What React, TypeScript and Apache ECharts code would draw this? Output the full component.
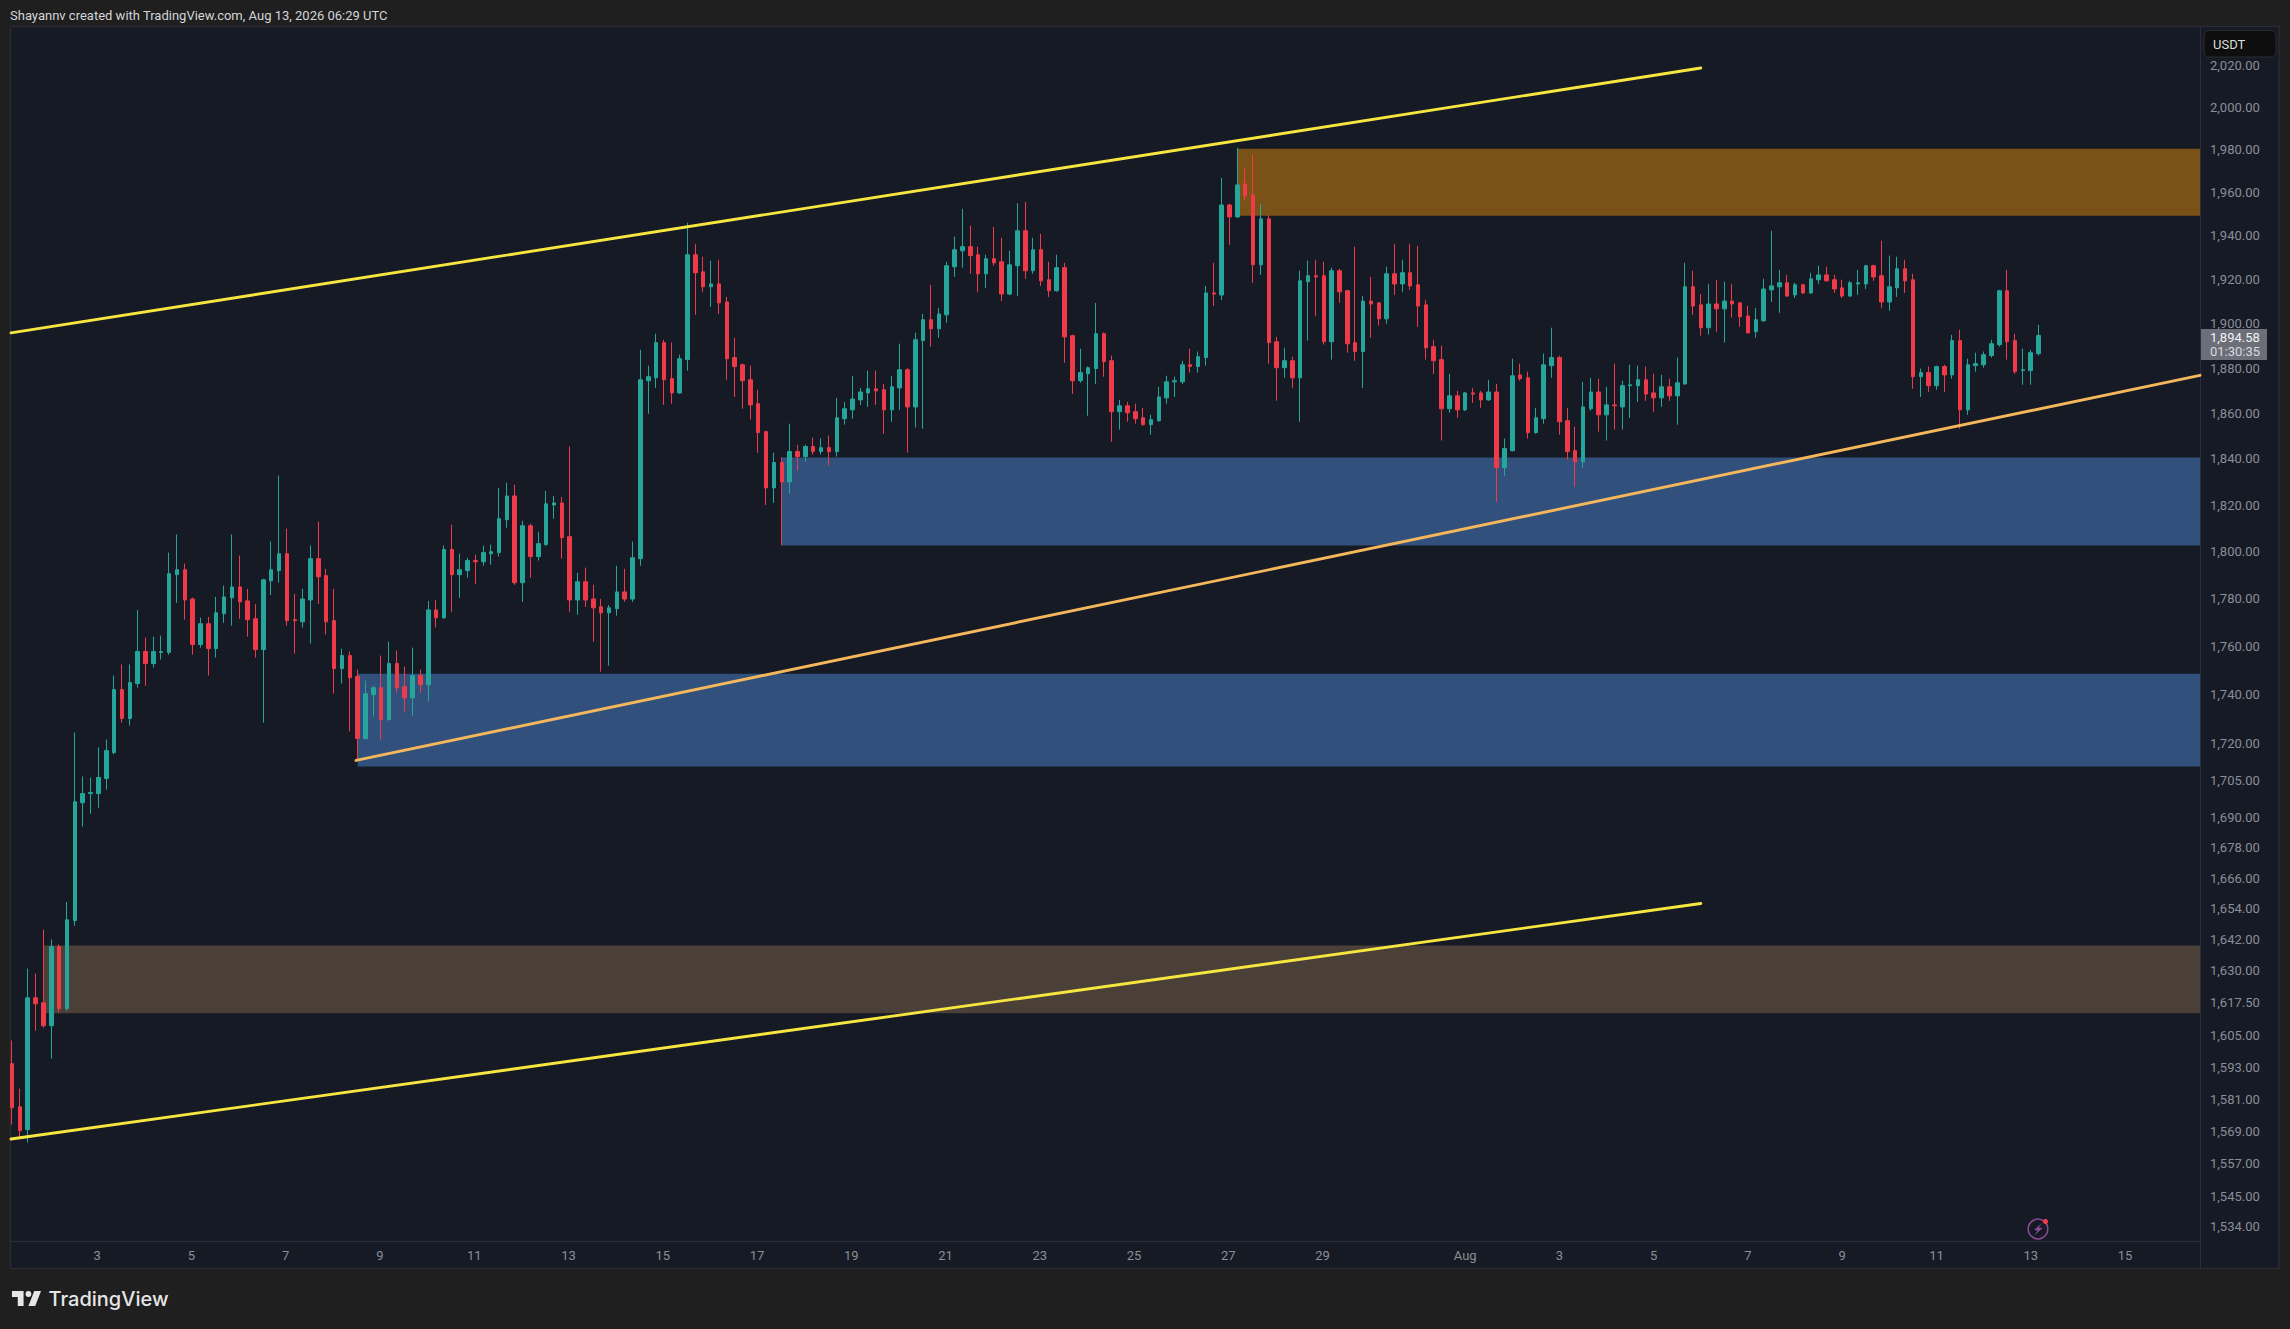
import React, { useEffect, useRef } from "react";
import * as echarts from "echarts";

const opens = [
1594.3,1578.1,1569.6,1619.4,1617.5,1608.7,1639.2,1615.2,1649.3,1696,
1699.7,1699.7,1705.8,1716.3,1742.1,1730.2,1744.6,1757.9,1752.9,1757.5,
1757.5,1790.2,1792.3,1779.9,1760.8,1769.5,1759.1,1773.7,1780.4,1785,
1779.1,1771.6,1758.7,1787.6,1791.9,1799.1,1771.2,1770.3,1779.5,1797,
1789.8,1770.8,1750.8,1756.2,1747.5,1722,1740,1742.9,1729.8,1752.9,
1743.3,1738.7,1747.9,1744.1,1775.3,1772,1800.9,1790.2,1791.9,1796.2,
1795.7,1799.1,1799.6,1813.7,1823.9,1786.8,1811.1,1797.9,1803,1820,
1820.9,1806.4,1779.5,1787.2,1779.9,1776.6,1774.1,1775.8,1782.9,1779.9,
1797,1874.4,1875.7,1891.4,1875.3,1869,1883.8,1931.2,1923.4,1916.6,
1917.9,1909.7,1884.7,1881.5,1874.8,1864.2,1851.9,1827.4,1838.4,1830,
1843.2,1841,1845.4,1843.2,1844.9,1843.2,1857.6,1861.5,1865.9,1869,
1870.8,1870.4,1861.5,1871.2,1879.3,1862.8,1892.3,1901.7,1897.6,1903.9,
1925.7,1933,1934.9,1931.2,1922.5,1929.4,1928,1913.3,1926.2,1942.2,
1923.9,1933.5,1919.8,1914.8,1925.3,1894.5,1874.4,1877.5,1879.8,1895.4,
1883.3,1860.7,1863.3,1860.7,1858,1855,1856.7,1866.8,1873.9,1873.9,
1881.5,1880.7,1884.7,1913.8,1912.9,1954.1,1948.6,1963.9,1958.8,1926.6,
1947.7,1891.8,1880.2,1883.3,1875.7,1918.9,1921.6,1921.6,1891.8,1923.9,
1914.8,1891.4,1887.4,1910.1,1909.3,1902.1,1922.5,1917.9,1923,1917.5,
1908.4,1889.6,1883.8,1862,1867.7,1861.5,1869,1869,1865.9,1869.4,
1836.2,1843.6,1877,1875.7,1851.5,1857.6,1881.1,1884.7,1856.7,1843.6,
1838.8,1862,1869.4,1859.3,1863.7,1862.8,1872.2,1872.2,1874.8,1869,
1866.8,1871.7,1867.7,1873,1916.6,1908.4,1898.1,1908.8,1906.6,1910.1,
1909.3,1903.4,1896.3,1901.2,1915.2,1916.6,1918.4,1912.9,1917.5,1913.8,
1919.8,1922,1919.8,1916.1,1912.4,1917.9,1917.9,1926.2,1921.6,1909.7,
1916.1,1924.8,1919.8,1876.2,1878,1872.2,1880.7,1877,1892.3,1861.5,
1881.1,1881.5,1885.6,1890.5,1914.8,1892.3,1878.9,1878.9,1886.5,
];

const closes = [
1577.7,1569.3,1619.4,1617.1,1608.7,1639.2,1615.2,1649.6,1696.4,1699.7,
1700.1,1706.2,1717.1,1742.1,1730.2,1745,1757.9,1752.9,1757.9,1757.9,
1790.6,1792.3,1779.5,1760.8,1769.5,1759.1,1774.1,1780.8,1785,1778.7,
1771.2,1758.7,1788,1792.3,1799.1,1770.8,1770.8,1779.9,1797,1789.3,
1770.3,1750.8,1756.2,1747,1722,1740.4,1742.9,1729.8,1752.9,1742.9,
1738.7,1747.9,1744.1,1775.3,1772,1800.9,1790.2,1792.3,1796.2,1795.7,
1799.6,1800,1814.1,1823.9,1786.8,1811.1,1797.9,1803.4,1820.5,1820.9,
1806,1779.5,1787.2,1779.5,1776.2,1774.1,1776.2,1782.9,1779.9,1797.4,
1874.8,1876.2,1891.4,1874.8,1869,1884.2,1931.2,1923,1916.6,1917.9,
1909.3,1884.2,1880.7,1874.4,1863.7,1851.5,1827.4,1838.4,1830,1843.2,
1841,1845.4,1843.2,1844.9,1843.2,1858,1862,1866.3,1869.4,1870.8,
1869.9,1861.5,1871.7,1879.3,1862.8,1892.7,1901.7,1897.6,1904.3,1926.2,
1933.5,1934.9,1930.8,1922.5,1929.4,1927.5,1913.3,1926.6,1942.2,1923.9,
1933.5,1919.3,1914.8,1925.3,1894,1874.4,1878,1880.2,1895.4,1882.9,
1860.7,1863.3,1860.2,1857.6,1855,1857.2,1867.2,1873.9,1874.4,1881.5,
1880.7,1885.1,1913.8,1913.3,1954.1,1948.6,1963.4,1958.3,1926.6,1947.7,
1891.4,1880.2,1883.3,1875.7,1919.3,1921.6,1921.1,1891.8,1923.9,1914.3,
1890.9,1887.4,1910.1,1908.8,1902.1,1922.5,1917.9,1923,1917,1907.9,
1889.1,1883.3,1862,1867.7,1861.5,1869,1868.5,1865.9,1869.4,1836.2,
1844.5,1876.6,1875.3,1851.5,1858,1881.5,1884.7,1856.3,1843.2,1838.8,
1862.8,1869.4,1859.3,1863.7,1863.3,1872.2,1872.6,1874.8,1868.5,1866.8,
1871.7,1867.7,1873.5,1916.6,1907.9,1898.1,1908.8,1906.6,1910.1,1908.8,
1903,1895.8,1901.7,1915.6,1917,1918.4,1912.4,1917.5,1913.8,1920.2,
1922,1919.3,1915.6,1912.4,1918.4,1918.4,1926.2,1921.1,1909.7,1916.6,
1924.8,1919.3,1876.2,1878,1872.2,1880.7,1877,1892.3,1861.5,1881.5,
1882,1886,1890.9,1914.8,1891.8,1878.4,1879.3,1886.9,1894.58,
];

const lows = [
1571.5,1566.7,1564.8,1606.8,1608,1596.2,1613.7,1614.4,1647.3,1686.5,
1691.6,1694,1701.3,1715.5,1728.5,1727.3,1742.9,1743.7,1751.2,1754.5,
1756.5,1778.3,1771.2,1756.6,1759.5,1747.9,1755.4,1769.9,1768.7,1771.6,
1764.1,1755.4,1728.5,1781.6,1786.8,1768.7,1757,1767.9,1761.2,1777.8,
1765,1740.4,1744.6,1724.9,1713.1,1721.5,1731,1721.6,1729.3,1740.8,
1733,1731.4,1740.8,1737.1,1767.9,1771.5,1774.5,1780.4,1788.9,1786.3,
1794,1794.4,1797.9,1810.2,1785.9,1778.7,1788.9,1796.2,1802.5,1814.1,
1797,1774.5,1773.3,1776.6,1762,1749.5,1752,1772.9,1778.7,1778.7,
1794,1859.8,1871.2,1863.7,1864.2,1868.5,1878.9,1903.9,1914.3,1907.5,
1904.3,1874.8,1867.2,1862,1857.2,1842.7,1820,1820.9,1802.6,1824.8,
1834.9,1838.8,1841.9,1841.9,1837,1841,1855,1857.6,1863.7,1862.8,
1863.7,1851,1856.3,1861.5,1842.7,1853.7,1853.2,1889.6,1893.6,1900.3,
1921.1,1925.3,1922.5,1914.3,1916.1,1926.2,1910.1,1912.8,1912.4,1920.2,
1922.5,1917,1912,1914.3,1882.4,1868.5,1873.5,1858.9,1873,1876.2,
1847.5,1852.8,1856.3,1855.4,1854.5,1850.6,1856.3,1864.2,1867.2,1873,
1878,1878,1881.1,1907.9,1910.6,1935.8,1948.2,1956.4,1918.4,1922,
1882,1865.5,1875.7,1871.2,1856.3,1892.3,1903.4,1890.5,1883.8,1909.3,
1886.9,1883.3,1871.2,1893.6,1899,1899.9,1912.9,1914.3,1915.2,1898.5,
1883.8,1877.5,1848,1860.2,1858,1861,1864.6,1862.4,1865.5,1821.3,
1832.7,1843.2,1874.4,1848.9,1851,1855.4,1875.7,1850.6,1839.7,1827.9,
1836.2,1861.1,1851.9,1848,1852.8,1852.8,1858,1865,1865.5,1860.7,
1862.8,1865.5,1855,1872.5,1903.9,1894.5,1895,1896.3,1891.4,1902.6,
1898.5,1895.4,1893.6,1900.8,1909.7,1904.8,1912,1911.5,1913.3,1913.3,
1917.9,1918.9,1913.8,1911.5,1912,1912.9,1915.6,1919.3,1907,1905.7,
1912,1913.8,1870.8,1867.2,1869.4,1870.4,1869.4,1875.3,1853.2,1859.3,
1878.4,1880.2,1884.7,1889.6,1883.8,1877.5,1872.6,1872.6,1885.6,
];

const highs = [
1603.1,1584.9,1630.6,1628.7,1645.8,1641.9,1640,1656.6,1724.5,1706.6,
1706.2,1718.4,1721.6,1747.9,1752.5,1752.5,1775.3,1763.7,1764.1,1764.5,
1799.6,1807.3,1794.9,1780.5,1772,1772.4,1780.8,1785.5,1807.3,1798.3,
1784.2,1777.8,1788.5,1804.3,1832.7,1809.8,1782,1784.2,1802.6,1812.8,
1792.7,1784.2,1759.1,1757.9,1750.4,1745.8,1743.7,1756.2,1762,1758.3,
1751.6,1759.5,1750.4,1779.1,1779.5,1802.6,1811.5,1799.1,1797.4,1798.7,
1802.6,1803,1827.4,1829.6,1828.8,1813.2,1812,1808.5,1826.1,1823.9,
1823.5,1845.4,1791,1793.2,1785.9,1779.9,1777.4,1794,1792.7,1804.3,
1888.2,1881.1,1895.4,1892.7,1891.4,1886,1945.9,1936.2,1930.3,1928.5,
1928.9,1912,1893.6,1882,1881.1,1870.4,1852.3,1842.7,1840.6,1855.4,
1846.2,1846.2,1849.3,1848.9,1850.2,1866.8,1865,1876.6,1871.2,1878.9,
1878.9,1873,1876.6,1890.9,1880,1895.8,1904.3,1917.5,1907,1928,
1939.5,1952.3,1944.5,1934.9,1931.2,1944,1939,1933,1955,1955.5,
1939,1940.8,1928,1931.2,1927.5,1895,1888.7,1880.7,1909.3,1896,
1885.6,1865.9,1865,1864.2,1862.4,1859.3,1871.7,1876.6,1876.2,1883.3,
1888.7,1887.4,1917,1927.5,1966.7,1954.6,1980.8,1971.4,1977.5,1954.6,
1949.5,1894,1889.1,1885.1,1923.9,1928.5,1928.9,1928,1925.3,1924.8,
1915.2,1934.9,1912.4,1921.1,1909.7,1925.7,1936.2,1928.9,1936.2,1935.3,
1910.6,1892.7,1890,1877.5,1869.9,1869.4,1871.2,1869.9,1874.8,1873,
1848.9,1884.2,1882,1878.4,1862.4,1886.5,1898.1,1885.6,1862.4,1854.1,
1873.9,1875.7,1875.3,1871.7,1882,1874.4,1881.5,1881.1,1880.7,1877.5,
1877,1875.3,1884.7,1927.5,1923.9,1913.3,1917.9,1919.8,1918.9,1917.9,
1909.7,1907.9,1907,1920.2,1942.2,1924.3,1922,1918.4,1918,1923,
1926.2,1925.7,1922,1919.8,1919.3,1924.3,1926.6,1926.6,1937.6,1930.8,
1930.3,1928.9,1922.5,1879.8,1880.7,1881.1,1881.5,1894.9,1897.2,1884.2,
1886.9,1887.4,1892.7,1915.2,1924.3,1895.4,1888.7,1888.2,1899.4,
];

// Time axis: candle number carrying each day label (six 4-hour candles a day)
const timeTickLabels = ["3","5","7","9","11","13","15","17","19","21","23","25","27","29","Aug","3","5","7","9","11","13","15"];
const timeTickCandles = [11.85,23.85,35.85,47.85,59.85,71.85,83.85,95.85,107.85,119.85,131.85,143.85,155.85,167.85,186,198,210,222,234,246,258,270];

const priceTicks = [2020,2000,1980,1960,1940,1920,1900,1880,1860,1840,1820,1800,1780,1760,1740,1720,1705,1690,1678,1666,1654,1642,1630,1617.5,1605,1593,1581,1569,1557,1545,1534];

const AXIS_X_MIN = 0.873;
const AXIS_X_MAX = 279.55;
const AXIS_Y_MIN = 1528.7;
const AXIS_Y_MAX = 2038.3;

// Zones: [first candle, upper price, lower price]
const supplyZone = [157, 1980.3, 1949.1];
const demandZoneUpper = [99, 1840.6, 1802.6];
const demandZoneLower = [45, 1748.7, 1710.6];
const baseZone = [5, 1639.6, 1613.5];

// Trendlines: [candle, price] ends
const channelTop = [[AXIS_X_MIN, 1895.8], [216, 2018.6]];
const channelBottom = [[AXIS_X_MIN, 1566.1], [216, 1656]];
const channelMid = [[44.8, 1713.1], [AXIS_X_MAX, 1876.8]];

const lastPrice = "1,894.58";
const countdown = "01:30:35";
const credit = "Shayannv created with TradingView.com, Aug 13, 2026 06:29 UTC";

const PAGE = "#1f1f1f";
const PANE = "#161a25";
const RULE = "#2b2e38";
const UP = "#26a69a";
const DOWN = "#ef3b49";
const AXIS_TEXT = "#8b8e96";
const FONT = "Roboto";

echarts.graphic.registerShape(
  "tvLogo",
  echarts.graphic.extendPath(
    "M14 6H2v6h6v9h6V6zm12 15h-7l6-15h7l-6 15zm-7-9a3 3 0 1 0 0-6 3 3 0 0 0 0 6z",
    {}
  )
);

const zoneArea = (z: number[], color: string) => [
  { xAxis: z[0], yAxis: z[1], itemStyle: { color, opacity: 1 } },
  { xAxis: AXIS_X_MAX, yAxis: z[2] },
];

const trendline = (name: string, data: number[][], color: string) => ({
  type: "line",
  name,
  data,
  symbol: "none",
  silent: true,
  z: 6,
  lineStyle: { color, width: 2.9, cap: "round" },
});

export default function App() {
  const ref = useRef<HTMLDivElement>(null);
  useEffect(() => {
    document.body.style.margin = "0";
    document.body.style.background = PAGE;
    const chart = echarts.init(ref.current, null, { renderer: "svg" });
    const candles = opens.map((o, i) => [i + 1, o, closes[i], lows[i], highs[i]]);
    chart.setOption({
      animation: false,
      backgroundColor: PAGE,
      textStyle: { fontFamily: FONT },
      grid: { left: 11, right: 90, top: 27, bottom: 88 },
      xAxis: {
        type: "value",
        min: AXIS_X_MIN,
        max: AXIS_X_MAX,
        axisLine: { show: true, onZero: false, lineStyle: { color: RULE, width: 1 } },
        axisTick: { show: false },
        splitLine: { show: false },
        axisLabel: {
          customValues: timeTickCandles,
          formatter: (v: number) => timeTickLabels[timeTickCandles.indexOf(v)],
          color: AXIS_TEXT,
          fontFamily: FONT,
          fontSize: 13,
          margin: 8,
        },
      },
      yAxis: {
        type: "log",
        position: "right",
        min: AXIS_Y_MIN,
        max: AXIS_Y_MAX,
        axisLine: { show: true, onZero: false, lineStyle: { color: RULE, width: 1 } },
        axisTick: { show: false },
        splitLine: { show: false },
        minorTick: { show: false },
        axisLabel: {
          customValues: priceTicks,
          formatter: (v: number) =>
            v.toLocaleString("en-US", { minimumFractionDigits: 2, maximumFractionDigits: 2 }),
          color: AXIS_TEXT,
          fontFamily: FONT,
          fontSize: 13,
          margin: 10,
          align: "left",
        },
      },
      series: [
        {
          type: "candlestick",
          name: "ETHUSDT 4H",
          data: candles,
          encode: { x: 0, y: [1, 2, 3, 4] },
          barWidth: 4,
          silent: true,
          z: 3,
          itemStyle: {
            color: UP,
            color0: DOWN,
            borderColor: UP,
            borderColor0: DOWN,
            borderWidth: 1,
          },
          markArea: {
            silent: true,
            z: 1,
            label: { show: false },
            data: [
              zoneArea(supplyZone, "#7a5218"),
              zoneArea(demandZoneUpper, "#32507c"),
              zoneArea(demandZoneLower, "#32507c"),
              zoneArea(baseZone, "#4a4038"),
            ],
          },
        },
        trendline("Channel top", channelTop, "#f6e63f"),
        trendline("Channel bottom", channelBottom, "#f6e63f"),
        trendline("Rising support", channelMid, "#f4b75c"),
      ],
      graphic: [
        { type: "rect", z: -1, silent: true, shape: { x: 10.5, y: 26.5, width: 2268.5, height: 1242 }, style: { fill: PANE, stroke: "#2a2b30", lineWidth: 1.5 } },
        { type: "line", z: 1, silent: true, shape: { x1: 2200.5, y1: 1241, x2: 2200.5, y2: 1268 }, style: { stroke: RULE, lineWidth: 1 } },
        { type: "text", z: 10, x: 10, y: 15, silent: true, style: { text: credit, fill: "#d4d5d8", font: `13px ${FONT}`, textVerticalAlign: "middle" } },
        { type: "tvLogo", z: 10, x: 10, y: 1285, scaleX: 0.97, scaleY: 1, silent: true, style: { fill: "#e6e6e6" } },
        { type: "text", z: 10, x: 48.5, y: 1299, silent: true, style: { text: "TradingView", fill: "#e6e6e6", font: `500 20px Inter`, textVerticalAlign: "middle" } },
        { type: "rect", z: 10, silent: true, shape: { x: 2204, y: 30.5, width: 72, height: 26.5, r: 5 }, style: { fill: "#0e0e0f", stroke: "#2a2c33", lineWidth: 1 } },
        { type: "text", z: 11, x: 2213, y: 44, silent: true, style: { text: "USDT", fill: "#dcdcdc", font: `13px ${FONT}`, textVerticalAlign: "middle" } },
        { type: "rect", z: 10, silent: true, shape: { x: 2201, y: 329, width: 66, height: 31 }, style: { fill: "#6c6f7a" } },
        { type: "text", z: 11, x: 2210, y: 337.5, silent: true, style: { text: lastPrice, fill: "#f2f2f2", font: `13px ${FONT}`, textVerticalAlign: "middle" } },
        { type: "text", z: 11, x: 2210, y: 351, silent: true, style: { text: countdown, fill: "#d8d9dc", font: `13px ${FONT}`, textVerticalAlign: "middle" } },
        { type: "circle", z: 10, silent: true, shape: { cx: 2038, cy: 1229, r: 9.8 }, style: { fill: "none", stroke: "#8c4a96", lineWidth: 1.5 } },
        { type: "polygon", z: 10, silent: true, shape: { points: [[2042, 1223], [2034, 1230], [2037.5, 1230.5], [2034.5, 1235.5], [2042.5, 1228], [2038.8, 1227.5]] }, style: { fill: "#8c4a96" } },
        { type: "circle", z: 11, silent: true, shape: { cx: 2045.5, cy: 1221.5, r: 2.6 }, style: { fill: "#ef3b49" } },
      ],
    });
    return () => chart.dispose();
  }, []);
  return (
    <div
      ref={ref}
      style={{ position: "fixed", left: 0, top: 0, width: 2290, height: 1329 }}
    />
  );
}
